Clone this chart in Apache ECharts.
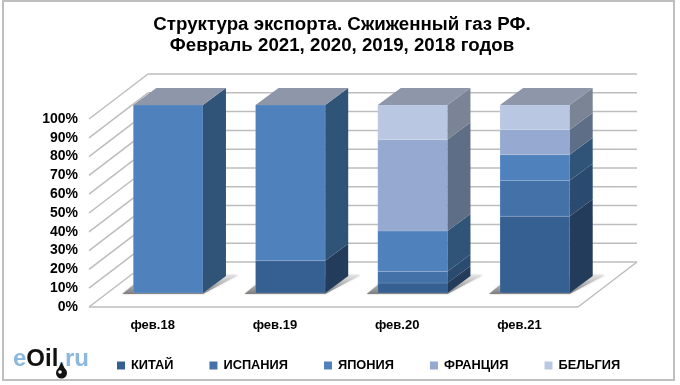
<!DOCTYPE html>
<html>
<head>
<meta charset="utf-8">
<script src="https://cdn.jsdelivr.net/npm/echarts@6/dist/echarts.min.js"></script>
<style>
html, body { margin: 0; padding: 0; background: #fff; }
#main { width: 680px; height: 385px; }
</style>
</head>
<body>
<div id="main"></div>
<script>
var categories = ['фев.18', 'фев.19', 'фев.20', 'фев.21'];
var ticks = [0, 10, 20, 30, 40, 50, 60, 70, 80, 90, 100];
var china = [0, 17.2, 5.3, 40.8];
var spain = [0, 0, 6.2, 19.1];
var japan = [100, 82.8, 21.5, 13.7];
var france = [0, 0, 48.6, 13.3];
var belgium = [0, 0, 18.4, 13.1];

var names = ['КИТАЙ', 'ИСПАНИЯ', 'ЯПОНИЯ', 'ФРАНЦИЯ', 'БЕЛЬГИЯ'];
var values = [china, spain, japan, france, belgium];
var frontColors = ['#376092', '#4472A8', '#4F81BD', '#95A9D1', '#B9C7E2'];
var sideColors = ['#243C5C', '#2B4A70', '#305378', '#5F6E87', '#7A8494'];
var topColor = '#8E96A9';

// depth of the walls and of the bars, px
var wallDx = 59, wallDy = -45;
var barDx = 23, barDy = -17;
var barShiftX = 18, barShiftY = -14;

function poly(points, fill, extra) {
  var el = { type: 'polygon', shape: { points: points }, style: { fill: fill } };
  if (extra) { for (var k in extra) { el.style[k] = extra[k]; } }
  return el;
}

function line(a, b) {
  return {
    type: 'line',
    shape: { x1: a[0], y1: a[1], x2: b[0], y2: b[1] },
    style: { stroke: '#BDBDBD', lineWidth: 1.5 }
  };
}

// back wall, left wall and floor
function renderWalls(params, api) {
  var cs = params.coordSys;
  var left = cs.x, right = cs.x + cs.width;
  var v = api.value(0);
  var y = api.coord([0, v])[1];
  var kids = [
    line([left, y], [left + wallDx, y + wallDy]),
    line([left + wallDx, y + wallDy], [right + wallDx, y + wallDy])
  ];
  if (v === 0) {
    kids.push(line([left, y], [right, y]));
    kids.push(line([right, y], [right + wallDx, y + wallDy]));
  }
  return { type: 'group', children: kids };
}

function renderBar(params, api) {
  var cat = api.value(0);
  var from = api.value(1), to = api.value(2);
  if (to <= from) { return; }
  var size = api.size([1, 0])[0];
  var w = size * 0.57;
  var c0 = api.coord([cat, from]);
  var c1 = api.coord([cat, to]);
  var x0 = c0[0] - w / 2 + barShiftX;
  var x1 = x0 + w;
  var yb = c0[1] + barShiftY;
  var yt = c1[1] + barShiftY;
  var i = params.seriesIndex - 1;
  var kids = [];
  if (from === 0) {
    kids.push(poly([[x0 - 11, yb + 1], [x1, yb + 1], [x1 + barDx + 12, yb + barDy - 1], [x1 + barDx, yb + barDy - 1], [x0, yb - 8]], {
      type: 'linear', x: 0, y: 0, x2: 0, y2: 1,
      colorStops: [{ offset: 0, color: '#E4E4E4' }, { offset: 1, color: '#7E7E7E' }]
    }, { shadowBlur: 2, shadowColor: 'rgba(0,0,0,0.25)' }));
  }
  kids.push(poly([[x0, yb], [x1, yb], [x1, yt], [x0, yt]], frontColors[i], { stroke: 'rgba(255,255,255,0.12)', lineWidth: 1 }));
  kids.push(poly([[x1, yb], [x1 + barDx, yb + barDy], [x1 + barDx, yt + barDy], [x1, yt]], sideColors[i]));
  if (to >= 99.9) {
    kids.push(poly([[x0, yt], [x1, yt], [x1 + barDx, yt + barDy], [x0 + barDx, yt + barDy]], topColor));
  }
  return { type: 'group', children: kids };
}

var series = [{
  type: 'custom',
  silent: true,
  renderItem: renderWalls,
  data: ticks.map(function (t) { return [t]; }),
  encode: { y: 0 },
  z: 1
}];

names.forEach(function (name, i) {
  var rows = categories.map(function (c, j) {
    var from = 0;
    for (var k = 0; k < i; k++) { from += values[k][j]; }
    return [j, from, from + values[i][j]];
  });
  series.push({
    type: 'custom',
    name: name,
    renderItem: renderBar,
    data: rows,
    encode: { x: 0, y: [1, 2] },
    itemStyle: { color: frontColors[i] },
    clip: false,
    z: 2
  });
});

var chart = echarts.init(document.getElementById('main'), null, { renderer: 'canvas' });
chart.setOption({
  animation: false,
  backgroundColor: '#fff',
  textStyle: { fontFamily: 'Liberation Sans' },
  title: {
    text: 'Структура экспорта. Сжиженный газ РФ.\nФевраль 2021, 2020, 2019, 2018 годов',
    left: 337,
    top: 9,
    textAlign: 'center',
    textStyle: { fontSize: 18.7, fontWeight: 'bold', color: '#000', lineHeight: 21, fontFamily: 'Liberation Sans' }
  },
  grid: { left: 89, right: 102, top: 119, bottom: 78 },
  xAxis: {
    type: 'category',
    data: categories,
    axisLine: { show: false },
    axisTick: { show: false },
    axisLabel: { color: '#000', fontWeight: 'bold', fontSize: 13, margin: 12, padding: [0, 0, 0, 5] }
  },
  yAxis: {
    type: 'value',
    min: 0,
    max: 100,
    interval: 10,
    splitLine: { show: false },
    axisLine: { show: false },
    axisTick: { show: false },
    axisLabel: { color: '#000', fontWeight: 'bold', fontSize: 14, margin: 11, lineHeight: 16, padding: [2, 0, 0, 0], formatter: '{value}%' }
  },
  legend: {
    data: names,
    left: 112,
    top: 354,
    icon: 'rect',
    itemWidth: 8,
    itemHeight: 8,
    itemGap: 36,
    textStyle: { color: '#000', fontWeight: 'bold', fontSize: 12.8, padding: [0, 0, 0, 1] }
  },
  graphic: [
    {
      type: 'rect',
      silent: true,
      z: -1,
      shape: { x: 3, y: 1, width: 671, height: 379 },
      style: { fill: 'none', stroke: '#BFBFBF', lineWidth: 2 }
    },
    {
      type: 'text',
      left: 13,
      top: 347,
      z: 10,
      style: {
        text: '{a|e}{b|Oil}{a|.ru}',
        rich: {
          a: { fill: '#8DB8DE', fontSize: 24, fontWeight: 'bold', fontFamily: 'Liberation Sans' },
          b: { fill: '#111', fontSize: 24, fontWeight: 'bold', fontFamily: 'Liberation Sans' }
        }
      }
    },
    {
      type: 'polygon',
      silent: true,
      z: 11,
      shape: { points: [[61.5, 362], [66, 371], [57, 371]] },
      style: { fill: '#111' }
    },
    {
      type: 'circle',
      silent: true,
      z: 11,
      shape: { cx: 61.5, cy: 373, r: 5.5 },
      style: { fill: '#111' }
    },
    {
      type: 'circle',
      silent: true,
      z: 12,
      shape: { cx: 60, cy: 372, r: 1.8 },
      style: { fill: '#fff' }
    }
  ],
  series: series
});
</script>
</body>
</html>
